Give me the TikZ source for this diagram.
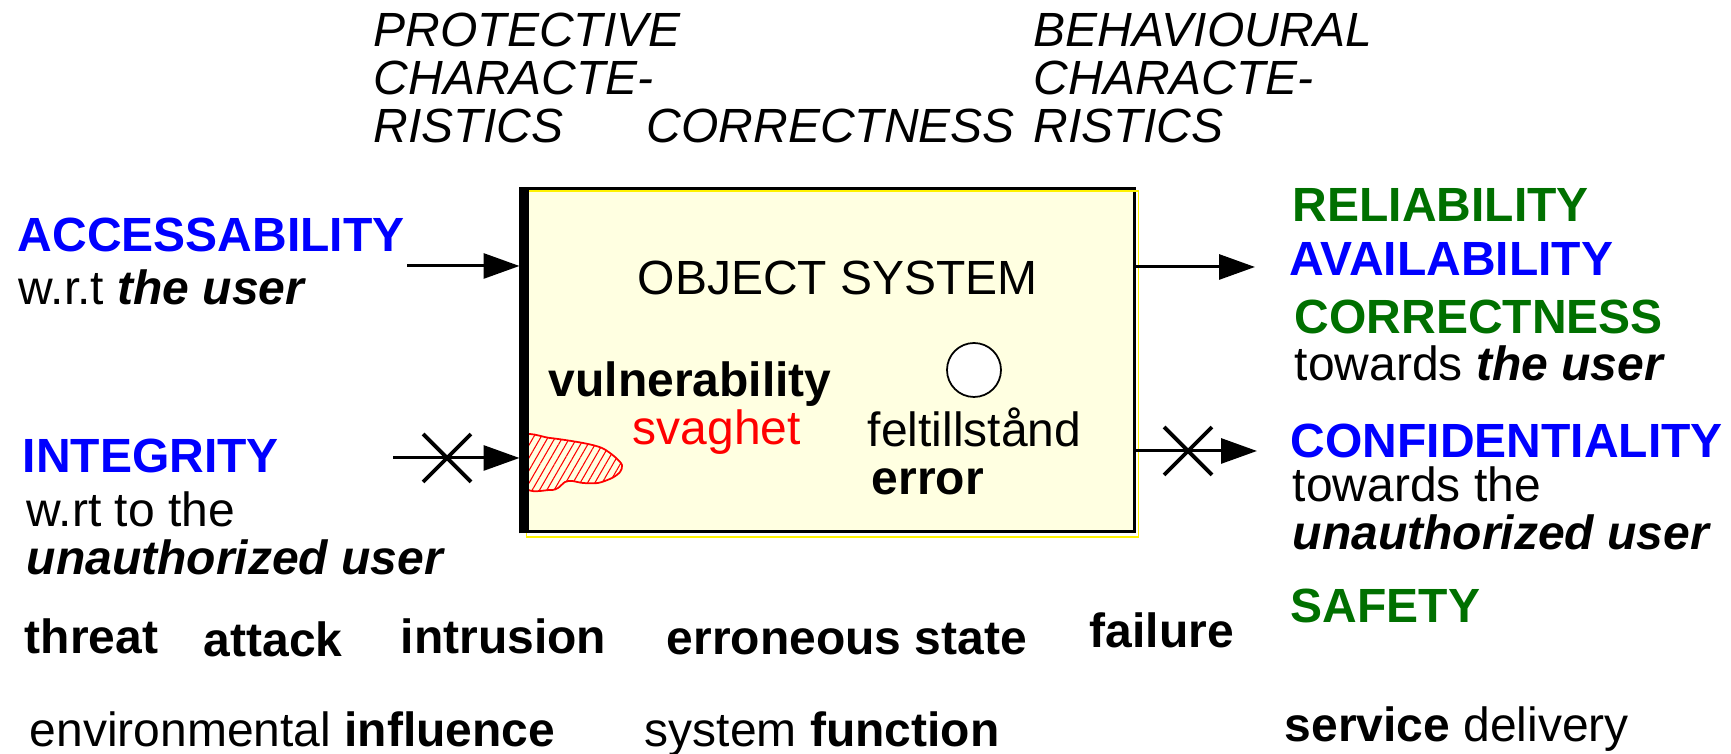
\documentclass[tikz,border=0pt]{standalone}
\usepackage{fontspec}
\setmainfont{Liberation Sans}
\usepackage{tikz}
\usetikzlibrary{arrows.meta,positioning,shapes.misc,patterns.meta}
\definecolor{attrblue}{RGB}{0,0,255}
\definecolor{attrgreen}{RGB}{0,112,0}
\definecolor{sysfill}{RGB}{255,255,225}
\newcommand{\diafont}{\fontsize{13.66}{13.66}\selectfont}

\begin{document}
\begin{tikzpicture}[
  font=\diafont,
  every node/.style={inner sep=0pt,anchor=base west,align=left},
  charac/.style={font=\diafont\itshape},
  attrb/.style={font=\diafont\bfseries,text=attrblue},
  attrg/.style={font=\diafont\bfseries,text=attrgreen},
  term/.style={font=\diafont\bfseries},
  sysbox/.style={draw=black,line width=.85pt,fill=sysfill,anchor=center,
                 minimum width=6.09cm,minimum height=3.43cm},
  errdot/.style={draw,circle,fill=white,line width=.5pt,minimum size=.54cm,anchor=center},
  crossmark/.style={draw,cross out,line width=1.1pt,minimum size=.44cm,anchor=center},
  arr/.style={-{Triangle[length=.36cm,width=.25cm]},line width=.85pt}
]
\useasboundingbox (0,0) rectangle (17.31,7.54);

% characteristics (multi-line nodes sit on their last line)
\node[charac] (protect) at (3.73,6.11) {PROTECTIVE\\CHARACTE-\\RISTICS};
\node[charac] (correct) at (6.46,6.11) {CORRECTNESS};
\node[charac] (behave)  at (10.33,6.11) {BEHAVIOURAL\\CHARACTE-\\RISTICS};

% object system
\node[sysbox] (sys) at (8.295,3.935) {};
\draw[yellow,line width=.3pt] ([shift={(.03,-.035)}]sys.south west) rectangle ([shift={(.03,-.035)}]sys.north east);
\draw[red,line width=.5pt,pattern={Lines[angle=60,distance=1.8pt,line width=.3pt]},pattern color=red]
  plot[smooth cycle,tension=.5] coordinates {(5.23,3.17) (5.50,3.16) (5.83,3.11) (6.02,3.06) (6.15,2.97)
  (6.22,2.89) (6.20,2.82) (6.12,2.76) (5.98,2.71) (5.83,2.71) (5.72,2.73) (5.65,2.72) (5.58,2.66)
  (5.50,2.64) (5.25,2.67)};
\draw[line width=2.85pt] (sys.south west) -- (sys.north west);

\node (title) at (6.37,4.59) {OBJECT SYSTEM};
\node[term] (vuln) at (5.48,3.57) {vulnerability};
\node[text=red] (svag) at (6.32,3.09) {svaghet};
\node[errdot] (fault) at (9.74,3.84) {};
\node (felt) at (8.67,3.07) {feltillstånd};
\node[term] (err) at (8.71,2.59) {error};

% inputs
\node[attrb] (access) at (0.17,5.02) {ACCESSABILITY};
\node (accuser) at (0.18,4.49) {w.r.t \textbf{\textit{the user}}};
\node[attrb] (integ) at (0.22,2.81) {INTEGRITY};
\node (intuser) at (0.26,1.79) {w.rt to the\\\textbf{\textit{unauthorized user}}};

% outputs
\node[attrg] (reli)  at (12.92,5.32) {RELIABILITY};
\node[attrb] (avail) at (12.89,4.78) {AVAILABILITY};
\node[attrg] (corr)  at (12.94,4.20) {CORRECTNESS};
\node (corruser) at (12.94,3.73) {towards \textbf{\textit{the user}}};
\node[attrb] (conf)  at (12.90,2.96) {CONFIDENTIALITY};
\node (confuser) at (12.92,2.04) {towards the\\\textbf{\textit{unauthorized user}}};
\node[attrg] (safety) at (12.90,1.31) {SAFETY};

% terms
\node[term] (threat)  at (0.24,1.00) {threat};
\node[term] (attack)  at (2.03,0.97) {attack};
\node[term] (intrus)  at (4.00,1.00) {intrusion};
\node[term] (erron)   at (6.66,0.99) {erroneous state};
\node[term] (failure) at (10.89,1.06) {failure};
\node (influence) at (0.29,0.07) {environmental \textbf{influence}};
\node (function)  at (6.44,0.07) {system \textbf{function}};
\node (service)   at (12.84,0.12) {\textbf{service} delivery};

% arrows
\coordinate (accin) at (4.07,4.88);
\coordinate (intin) at (3.93,2.96);
\coordinate (relout) at (12.55,4.87);
\coordinate (confout) at (12.57,3.03);
\draw[arr,shorten >=.04cm] (accin) -- (accin -| sys.west);
\draw[arr,shorten >=.04cm] (intin) -- (intin -| sys.west);
\draw[arr] (sys.east |- relout) -- (relout);
\draw[arr] (sys.east |- confout) -- (confout);
\node[crossmark] (intcut) at (4.47,2.96) {};
\node[crossmark] (confcut) at (11.88,3.03) {};
\end{tikzpicture}
\end{document}
